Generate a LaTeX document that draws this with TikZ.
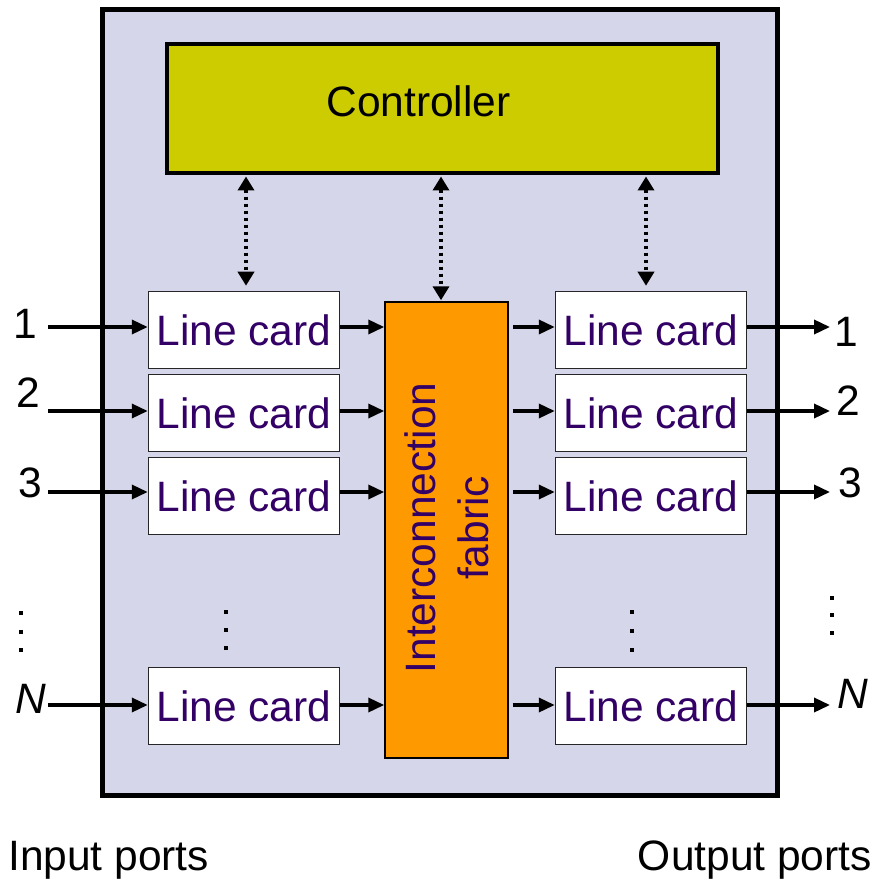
\documentclass[tikz,border=0pt]{standalone}
\usepackage{fontspec}
\setmainfont{Liberation Sans}
\usetikzlibrary{arrows.meta}
\definecolor{lav}{HTML}{D6D6EA}
\definecolor{ctrlc}{HTML}{CCCC00}
\definecolor{orng}{HTML}{FF9900}
\definecolor{purp}{HTML}{330066}
\begin{document}
\begin{tikzpicture}[x=1pt,y=-1pt,
  font=\fontsize{42.5}{48}\selectfont,
  card/.style={draw=black!85, line width=1.5pt, fill=white, minimum width=191pt, minimum height=77pt, inner sep=0pt, text=purp},
  arr/.style={line width=3.5pt, -{Triangle[length=16pt,width=14pt]}},
  dotarr/.style={line width=4pt, dash pattern=on 3.5pt off 3.5pt, {Triangle[length=14pt,width=16pt]}-{Triangle[length=14pt,width=16pt]}},
  lbl/.style={inner sep=0pt, anchor=base},
  dotsq/.style={fill=black}]
\useasboundingbox (0,0) rectangle (878,882);
% outer box
\draw[line width=5pt, fill=lav] (102.5,10) rectangle (777.5,795);
% controller
\node[draw=black, line width=4pt, fill=ctrlc, minimum width=551pt, minimum height=129pt, inner sep=0pt] (ctrl) at (442.5,109) {};
\node[inner sep=0pt] (ctrltxt) at (418.5,101) {Controller};
% fabric
\node[draw=black, line width=1.5pt, fill=orng, minimum width=123pt, minimum height=456pt, inner sep=0pt] (fab) at (446.5,530) {};
\node[rotate=90, text=purp, align=center, font=\fontsize{42.5}{53}\selectfont] (fabtxt) at (446.5,528) {Interconnection\\fabric};
% line cards
\node[card] (L1) at (244,330) {Line card};
\node[card] (L2) at (244,413) {Line card};
\node[card] (L3) at (244,496) {Line card};
\node[card] (LN) at (244,706) {Line card};
\node[card] (R1) at (651,330) {Line card};
\node[card] (R2) at (651,413) {Line card};
\node[card] (R3) at (651,496) {Line card};
\node[card] (RN) at (651,706) {Line card};
% port coordinates
\coordinate (i1) at (48,327);
\coordinate (i2) at (48,411);
\coordinate (i3) at (48,492);
\coordinate (iN) at (48,705);
\coordinate (o1) at (830,327);
\coordinate (o2) at (830,411);
\coordinate (o3) at (830,492);
\coordinate (oN) at (830,705);
% arrows
\foreach \r in {1,2,3,N}{
  \draw[arr] (i\r) -- (i\r -| L\r.west);
  \draw[arr] (i\r -| L\r.east) -- (i\r -| fab.west);
  \draw[arr] ([xshift=4pt]i\r -| fab.east) -- (i\r -| R\r.west);
  \draw[arr] (o\r -| R\r.east) -- (o\r);
}
% dotted control arrows
\coordinate (dL) at (246,0);
\coordinate (dM) at (441,0);
\coordinate (dR) at (646,0);
\draw[dotarr, shorten <=1pt, shorten >=5pt] (ctrl.south -| dL) -- (L1.north -| dL);
\draw[dotarr, shorten <=1pt, shorten >=1pt] (ctrl.south -| dM) -- (fab.north -| dM);
\draw[dotarr, shorten <=1pt, shorten >=5pt] (ctrl.south -| dR) -- (R1.north -| dR);
% port labels
\node[lbl] (n1) at (25,338) {1};
\node[lbl] (n2) at (28,407) {2};
\node[lbl] (n3) at (30,497) {3};
\node[lbl] (nN) at (31,713) {\itshape N};
\node[lbl] (m1) at (846,346) {1};
\node[lbl] (m2) at (848,415) {2};
\node[lbl] (m3) at (850,497) {3};
\node[lbl] (mN) at (853,708) {\itshape N};
% ellipsis dots
\foreach \x/\y in {21/613, 21/632, 21/650, 832/598, 832/615, 832/633, 226/612, 226/630, 226/648, 632/612, 632/631, 632/650}{
  \fill[dotsq] (\x-2.3,\y-2.3) rectangle (\x+2.3,\y+2.3);
}
% bottom labels
\node[inner sep=0pt, anchor=base west] (inp) at (8,870) {Input ports};
\node[inner sep=0pt, anchor=base east] (outp) at (872,870) {Output ports};
\end{tikzpicture}
\end{document}
